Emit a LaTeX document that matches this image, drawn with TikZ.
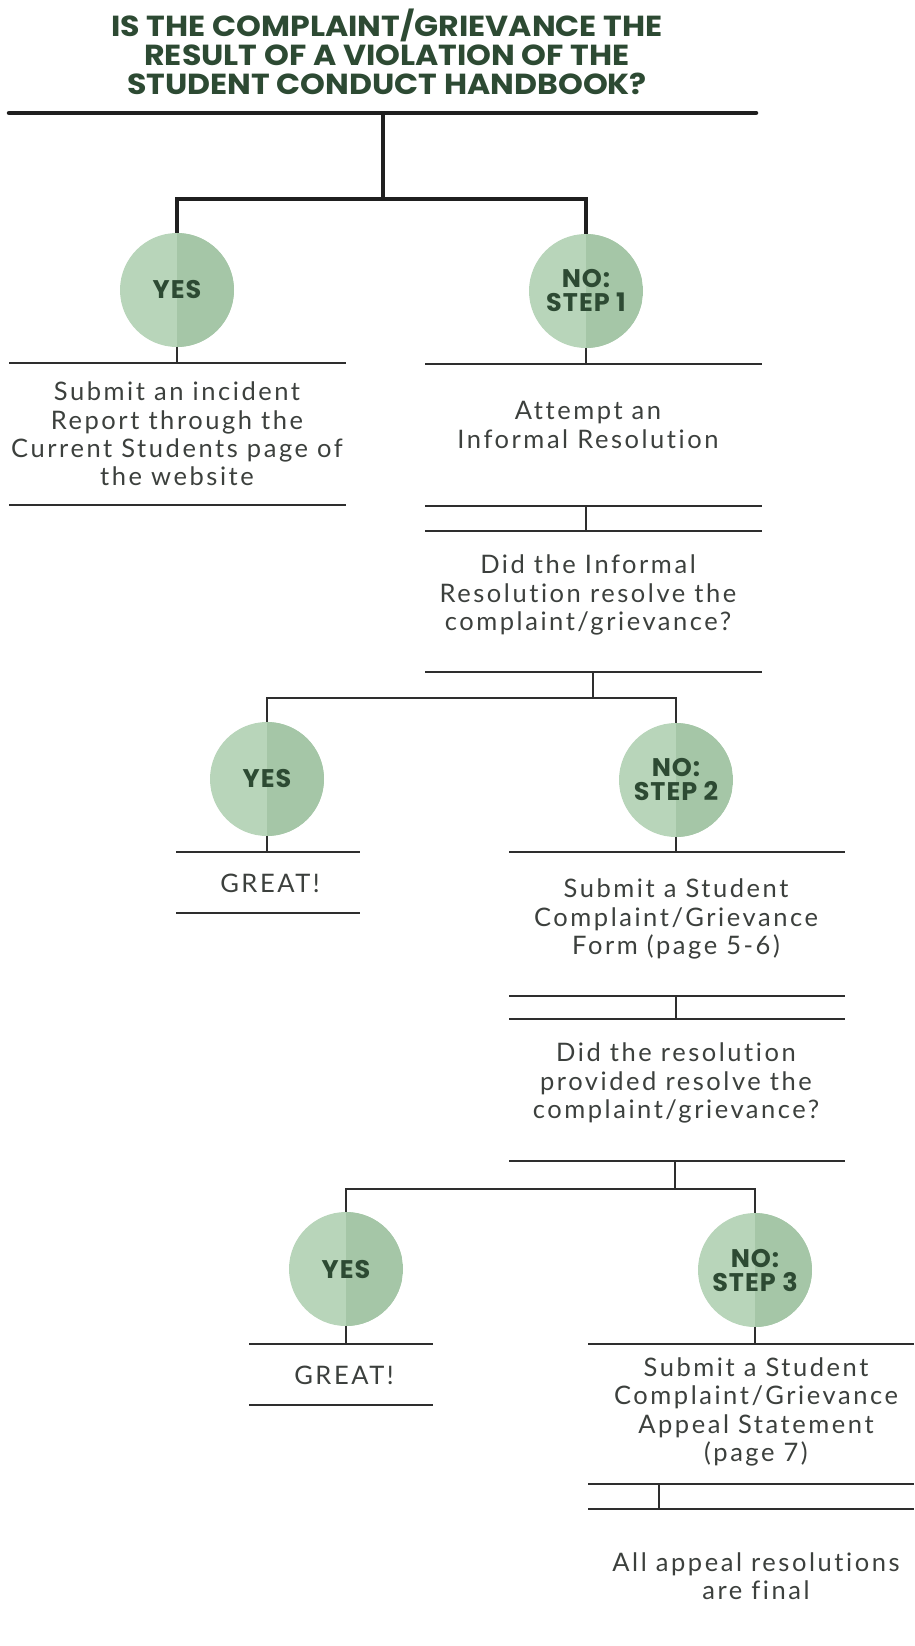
\documentclass[tikz,border=0pt]{standalone}
\usepackage{fontspec}
\setmainfont{Lato}
\newfontfamily\titlefam{Poppins}
\newfontfamily\circfam[LetterSpace=4]{Poppins}
\newfontfamily\bodyfam[LetterSpace=10,Ligatures=NoCommon]{Lato}
\definecolor{lightg}{HTML}{B8D5BA}
\definecolor{darkg}{HTML}{A5C6A7}
\definecolor{dgreen}{HTML}{2D4A33}
\definecolor{textc}{HTML}{3C403D}
\definecolor{linec}{HTML}{2E2E2E}
\newcommand{\tline}[1]{\scalebox{1.09}[1]{#1}}
\begin{document}
\begin{tikzpicture}[x=1pt,y=-1pt,
  sepbar/.style={line width=2pt, draw=linec},
  conn/.style={line width=2pt, draw=linec},
  topbar/.style={line width=4.5pt, draw=black!88, line cap=round},
  thickconn/.style={line width=3.5pt, draw=black!88},
  choice/.style={circle, minimum size=114pt, inner sep=0pt, fill=lightg,
    path picture={\fill[darkg] (path picture bounding box.north) rectangle (path picture bounding box.south east);},
    font=\circfam\fontsize{25.5}{24}\selectfont\bfseries, text=dgreen, align=center},
  body/.style={font=\bodyfam\fontsize{25.5}{28.3}\selectfont, text=textc, align=center},
  titlestyle/.style={font=\titlefam\bfseries\fontsize{29}{29}\selectfont, text=dgreen, align=center}]
\useasboundingbox (0,0) rectangle (914,1646);

% title
\node[titlestyle] (title) at (387,52) {\tline{IS THE COMPLAINT/GRIEVANCE THE}\\\tline{RESULT OF A VIOLATION OF THE}\\\tline{STUDENT CONDUCT HANDBOOK?}};

% top bar and split
\coordinate (tl) at (9,113);
\coordinate (tr) at (756,113);
\coordinate (tm) at (383,113);
\coordinate (tj) at (383,199);
\draw[topbar] (tl) -- (tr);

\node[choice] (c1) at (177,290) {YES};
\node[choice] (c2) at (586,291) {NO:\\STEP 1};
\draw[thickconn] (tm) -- (tj);
\draw[thickconn] (c1.north) |- (tj) -| (c2.north);

% left branch 1
\coordinate (l1a) at (9,363); \coordinate (l1b) at (346,363); \coordinate (l1m) at (177,363);
\coordinate (l1c) at (9,505); \coordinate (l1d) at (346,505);
\draw[sepbar] (l1a) -- (l1b);
\draw[sepbar] (l1c) -- (l1d);
\draw[conn] (c1.south) -- (l1m);
\node[body] (t1) at (177,434) {Submit an incident\\Report through the\\Current Students page of\\the website};

% right branch 1
\coordinate (r1a) at (425,364); \coordinate (r1b) at (762,364); \coordinate (r1m) at (586,364);
\draw[sepbar] (r1a) -- (r1b);
\draw[conn] (c2.south) -- (r1m);
\node[body] (t2) at (588,425) {Attempt an\\Informal Resolution};
\coordinate (r2a) at (425,506); \coordinate (r2b) at (762,506); \coordinate (r2m) at (586,506);
\coordinate (r3a) at (425,531); \coordinate (r3b) at (762,531); \coordinate (r3m) at (586,531);
\draw[sepbar] (r2a) -- (r2b);
\draw[sepbar] (r3a) -- (r3b);
\draw[conn] (r2m) -- (r3m);
\node[body] (t3) at (588,595) {Did the Informal\\Resolution resolve the\\complaint/grievance?};
\coordinate (r4a) at (425,672); \coordinate (r4b) at (762,672); \coordinate (r4m) at (593,672);
\draw[sepbar] (r4a) -- (r4b);
\coordinate (j2) at (593,698);

\node[choice] (c3) at (267,779) {YES};
\node[choice] (c4) at (676,780) {NO:\\STEP 2};
\draw[conn] (r4m) -- (j2);
\draw[conn] (c3.north) |- (j2) -| (c4.north);

% left branch 2
\coordinate (l2a) at (176,852); \coordinate (l2b) at (360,852); \coordinate (l2m) at (267,852);
\coordinate (l2c) at (176,913); \coordinate (l2d) at (360,913);
\draw[sepbar] (l2a) -- (l2b);
\draw[sepbar] (l2c) -- (l2d);
\draw[conn] (c3.south) -- (l2m);
\node[body] (g1) at (270,883) {GREAT!};

% right branch 2
\coordinate (r5a) at (509,852); \coordinate (r5b) at (845,852); \coordinate (r5m) at (676,852);
\draw[sepbar] (r5a) -- (r5b);
\draw[conn] (c4.south) -- (r5m);
\node[body] (t4) at (676,919) {Submit a Student\\Complaint/Grievance\\Form (page 5-6)};
\coordinate (r6a) at (509,996); \coordinate (r6b) at (845,996); \coordinate (r6m) at (676,996);
\coordinate (r7a) at (509,1019); \coordinate (r7b) at (845,1019); \coordinate (r7m) at (676,1019);
\draw[sepbar] (r6a) -- (r6b);
\draw[sepbar] (r7a) -- (r7b);
\draw[conn] (r6m) -- (r7m);
\node[body] (t5) at (676,1083) {Did the resolution\\provided resolve the\\complaint/grievance?};
\coordinate (r8a) at (509,1161); \coordinate (r8b) at (845,1161); \coordinate (r8m) at (675,1161);
\draw[sepbar] (r8a) -- (r8b);
\coordinate (j3) at (675,1189);

\node[choice] (c5) at (346,1269) {YES};
\node[choice] (c6) at (755,1270) {NO:\\STEP 3};
\draw[conn] (r8m) -- (j3);
\draw[conn] (c5.north) |- (j3) -| (c6.north);

% left branch 3
\coordinate (l3a) at (249,1344); \coordinate (l3b) at (433,1344); \coordinate (l3m) at (346,1344);
\coordinate (l3c) at (249,1405); \coordinate (l3d) at (433,1405);
\draw[sepbar] (l3a) -- (l3b);
\draw[sepbar] (l3c) -- (l3d);
\draw[conn] (c5.south) -- (l3m);
\node[body] (g2) at (344,1375) {GREAT!};

% right branch 3
\coordinate (r9a) at (588,1344); \coordinate (r9b) at (914,1344); \coordinate (r9m) at (755,1344);
\draw[sepbar] (r9a) -- (r9b);
\draw[conn] (c6.south) -- (r9m);
\node[body] (t6) at (756,1412) {Submit a Student\\Complaint/Grievance\\Appeal Statement\\(page 7)};
\coordinate (r10a) at (588,1484); \coordinate (r10b) at (914,1484); \coordinate (r10m) at (659,1484);
\coordinate (r11a) at (588,1509); \coordinate (r11b) at (914,1509); \coordinate (r11m) at (659,1509);
\draw[sepbar] (r10a) -- (r10b);
\draw[sepbar] (r11a) -- (r11b);
\draw[conn] (r10m) -- (r11m);
\node[body] (t7) at (756,1576) {All appeal resolutions\\are final};
\end{tikzpicture}
\end{document}
